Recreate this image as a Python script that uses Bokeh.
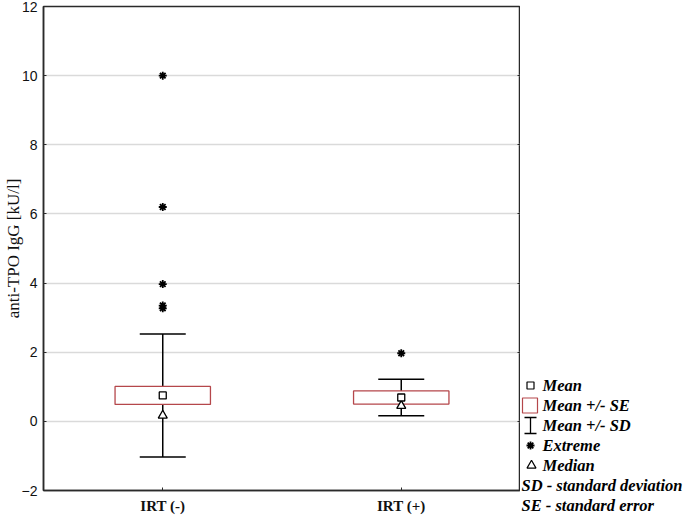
from bokeh.plotting import figure
from bokeh.models import Range1d, FactorRange, Whisker, TeeHead, ColumnDataSource, LinearAxis, FixedTicker
from bokeh.layouts import row, column
from bokeh.embed import file_html
from bokeh.resources import INLINE
from bokeh.core.properties import value

# ---- data ----
categories = ["IRT (-)", "IRT (+)"]
means = [0.75, 0.69]
se = [0.26, 0.19]
sd = [1.78, 0.53]
medians = [0.17, 0.45]
extreme_groups = ["IRT (-)", "IRT (-)", "IRT (-)", "IRT (-)", "IRT (-)", "IRT (+)"]
extreme_values = [10.0, 6.2, 3.97, 3.35, 3.27, 1.97]
y_ticks = [-2, 0, 2, 4, 6, 8, 10, 12]
y_label = "anti-TPO IgG [kU/l]"
legend_item_labels = ["Mean", "Mean +/- SE", "Mean +/- SD", "Extreme", "Median"]
legend_notes = ["SD - standard deviation", "SE - standard error"]

# ---- styling ----
H = 520
W1 = 520
W2 = 685 - W1
FRAME = "#2a2a2a"
BOXRED = "#b5474b"
SERIF = "Liberation Serif"
SANS = "Liberation Sans"

src = ColumnDataSource(dict(
    cat=categories,
    mean=means,
    se_lo=[m - s for m, s in zip(means, se)],
    se_hi=[m + s for m, s in zip(means, se)],
    sd_lo=[m - s for m, s in zip(means, sd)],
    sd_hi=[m + s for m, s in zip(means, sd)],
    med=medians,
))
ext_src = ColumnDataSource(dict(cat=extreme_groups, val=extreme_values))

p = figure(width=W1, height=H, x_range=FactorRange(*categories), y_range=Range1d(-2, 12),
           output_backend="svg", toolbar_location=None,
           min_border_top=6, min_border_bottom=30, min_border_right=0, min_border_left=30,
           background_fill_color="white", border_fill_color="white")
p.outline_line_color = FRAME
p.outline_line_width = 1.5
p.xgrid.visible = False
p.ygrid.ticker = FixedTicker(ticks=y_ticks)
p.ygrid.grid_line_color = "#dadada"
p.ygrid.grid_line_width = 1.5

p.yaxis.ticker = FixedTicker(ticks=y_ticks)
p.yaxis.axis_label = y_label
p.yaxis.axis_label_text_font = SERIF
p.yaxis.axis_label_text_font_style = "normal"
p.yaxis.axis_label_text_font_size = "17px"
p.yaxis.axis_label_text_color = "#111111"
p.yaxis.axis_label_standoff = -4
p.yaxis.major_label_text_font = SANS
p.yaxis.major_label_text_font_size = "14px"
p.yaxis.major_label_text_color = "#111111"
p.yaxis.major_label_standoff = 6
p.yaxis.major_tick_in = 3
p.yaxis.major_tick_out = 0
p.yaxis.minor_tick_line_color = None
p.yaxis.axis_line_color = FRAME
p.yaxis.axis_line_width = 1.5
p.yaxis.major_tick_line_color = FRAME

p.xaxis.major_label_text_font = SERIF
p.xaxis.major_label_text_font_style = "bold"
p.xaxis.major_label_text_font_size = "15px"
p.xaxis.major_label_text_color = "#111111"
p.xaxis.major_label_standoff = 7
p.xaxis.major_tick_in = 3
p.xaxis.major_tick_out = 0
p.xaxis.axis_line_color = FRAME
p.xaxis.axis_line_width = 1.5
p.xaxis.major_tick_line_color = FRAME

right_axis = LinearAxis(ticker=FixedTicker(ticks=y_ticks), major_label_text_font_size="1px",
                        major_label_text_color=None,
                        major_label_standoff=0, major_tick_in=3, major_tick_out=0,
                        minor_tick_line_color=None, axis_line_color=FRAME, axis_line_width=1.5,
                        major_tick_line_color=FRAME)
p.add_layout(right_axis, "right")

# SD whiskers (under the SE box)
wh = Whisker(base="cat", upper="sd_hi", lower="sd_lo", source=src, dimension="height",
             line_color="black", line_width=1.5,
             upper_head=TeeHead(size=46, line_color="black", line_width=1.5),
             lower_head=TeeHead(size=46, line_color="black", line_width=1.5))
wh.level = "underlay"
p.add_layout(wh)

# SE box
p.vbar(x="cat", width=0.4, bottom="se_lo", top="se_hi", source=src,
       fill_color="white", line_color=BOXRED, line_width=1.3)
# median
p.scatter(x="cat", y="med", source=src, marker="triangle", size=9,
          fill_color="white", line_color="black", line_width=1.3)
# mean
p.scatter(x="cat", y="mean", source=src, marker="square", size=7,
          fill_color="white", line_color="black", line_width=1.3)
# extremes
p.scatter(x="cat", y="val", source=ext_src, marker="asterisk", size=8,
          line_color="black", line_width=1.8)

# ---- legend panel ----
q = figure(width=W2, height=H, x_range=Range1d(0, W2), y_range=Range1d(H, 0),
           output_backend="svg", toolbar_location=None, min_border=0,
           x_axis_type=None, y_axis_type=None,
           background_fill_color="white", border_fill_color="white")
q.outline_line_color = None
q.xgrid.visible = False
q.ygrid.visible = False

row_y = [385 + 20 * i for i in range(7)]
icon_x = 10
q.scatter(x=[icon_x], y=[row_y[0]], marker="square", size=7, fill_color="white",
          line_color="black", line_width=1.2)
q.rect(x=[9.5], y=[row_y[1]], width=15, height=15, fill_color="white",
       line_color=BOXRED, line_width=1.2)
q.segment(x0=[icon_x, 4, 4], y0=[row_y[2] - 8, row_y[2] - 8, row_y[2] + 8],
          x1=[icon_x, 16, 16], y1=[row_y[2] + 8, row_y[2] - 8, row_y[2] + 8],
          line_color="black", line_width=1.3)
q.scatter(x=[icon_x], y=[row_y[3]], marker="asterisk", size=8, line_color="black", line_width=1.8)
q.scatter(x=[icon_x + 1], y=[row_y[4]], marker="triangle", size=9, fill_color="white",
          line_color="black", line_width=1.2)

q.text(x=[22] * 5, y=row_y[:5], text=legend_item_labels, text_font=value(SERIF),
       text_font_style="bold italic", text_font_size="16.5px", text_baseline="middle",
       text_color="black")
q.text(x=[1, 1], y=row_y[5:], text=legend_notes, text_font=value(SERIF),
       text_font_style="bold italic", text_font_size="16.5px", text_baseline="middle",
       text_color="black")

layout = row(p, column(q), spacing=0)
open("out.html", "w").write(file_html(layout, INLINE))
